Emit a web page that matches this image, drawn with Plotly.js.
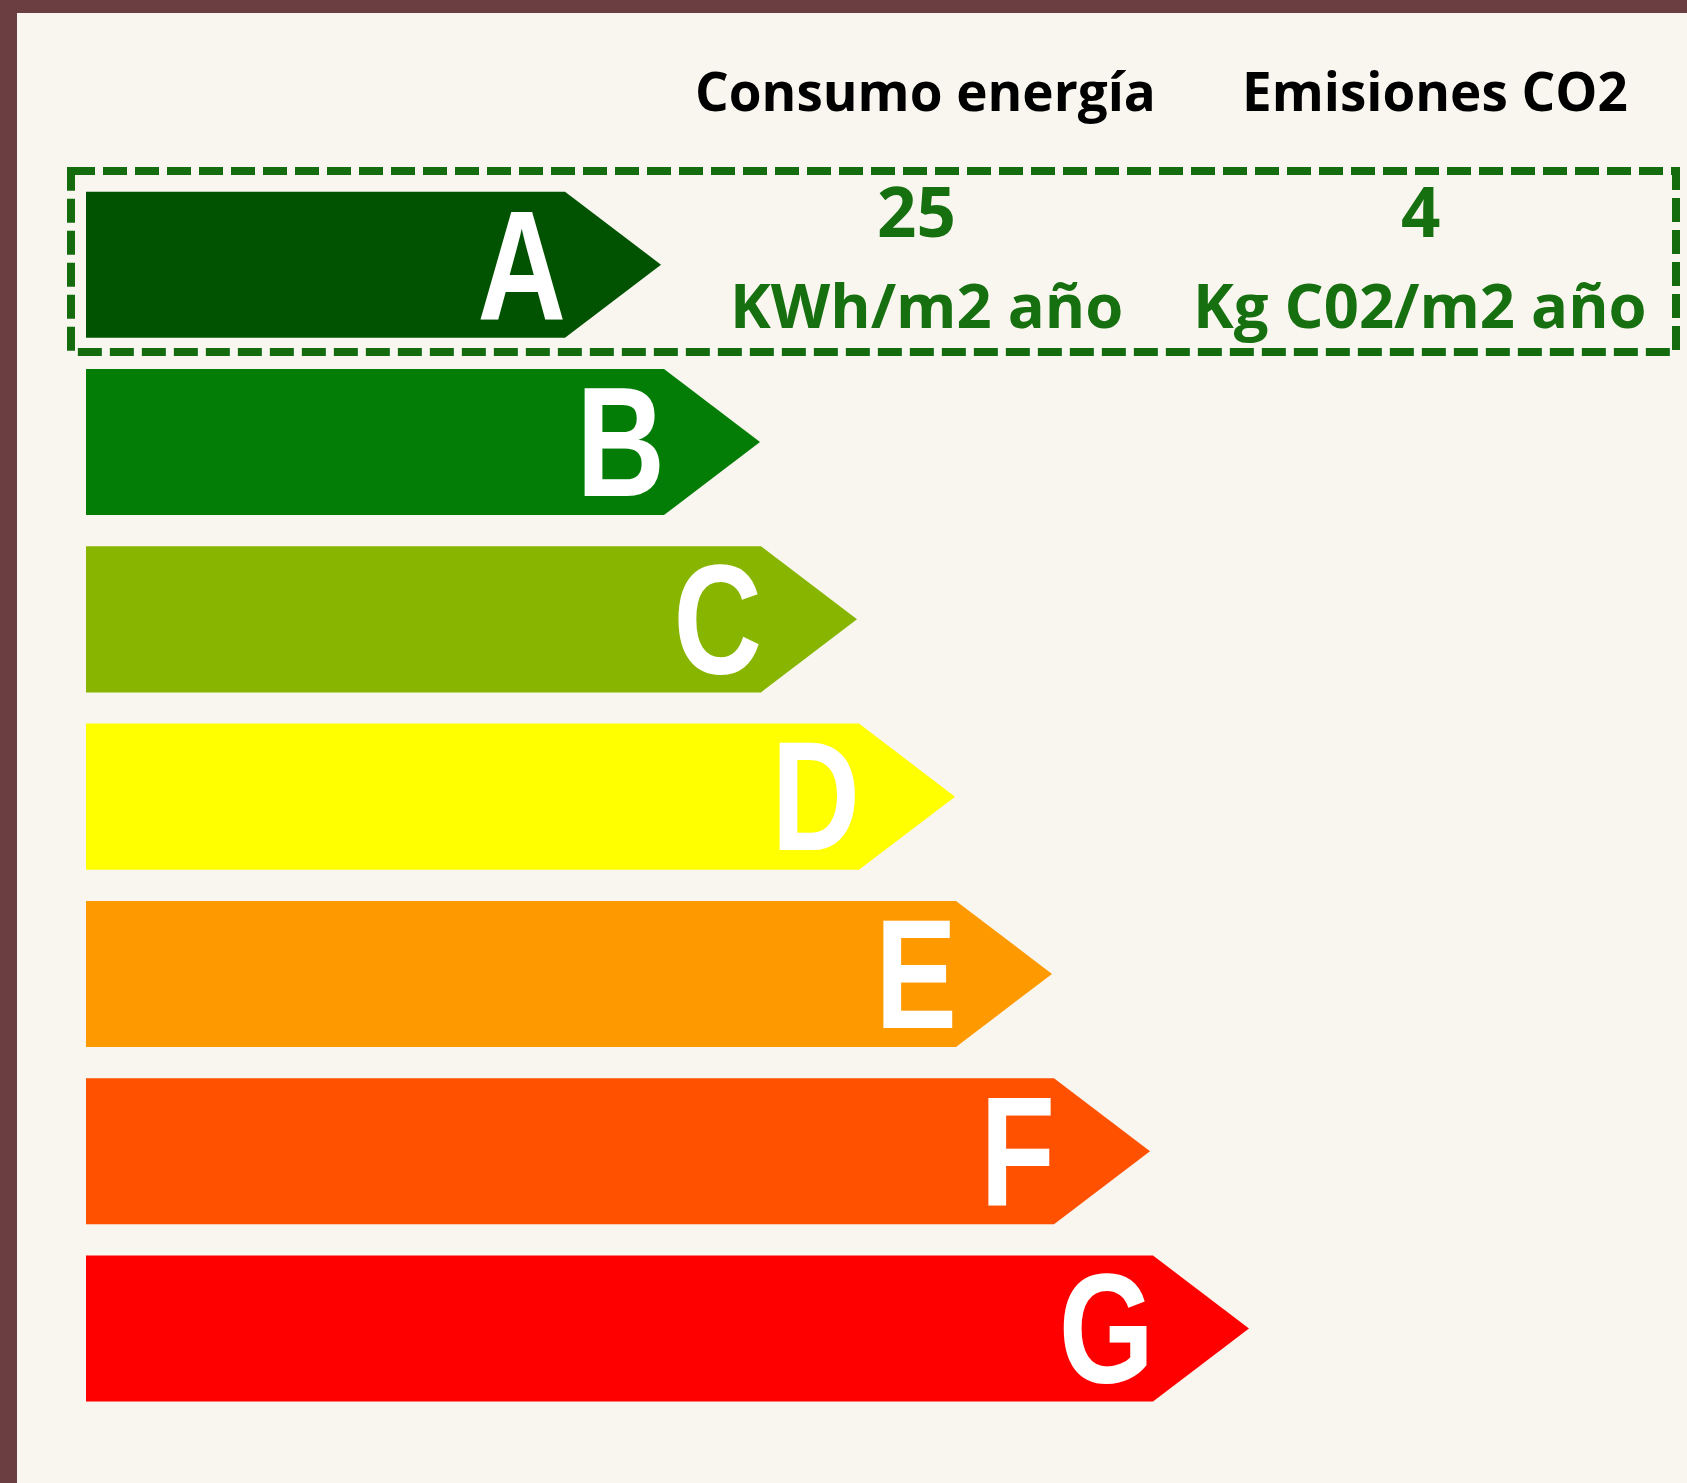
<!DOCTYPE html>
<html><head><meta charset="utf-8">
<script src="https://cdn.plot.ly/plotly-3.0.1.min.js"></script>
<style>html,body{margin:0;padding:0;background:#6B3F41;overflow:hidden;} #chart{width:1687px;height:1483px;}</style>
</head><body><div id="chart"></div>
<script>
// ---- data ----
const classes = ['A', 'B', 'C', 'D', 'E', 'F', 'G'];
const barLength = [479, 578, 675, 773, 870, 968, 1067];
const classColors = ['#015301', '#047D06', '#87B500', '#FFFF00', '#FF9900', '#FF5100', '#FF0000'];
const columnTitles = ['Consumo energía', 'Emisiones CO2'];
const ratingValues = [25, 4];
const ratingUnits = ['KWh/m2 año', 'Kg C02/m2 año'];
const ratedClass = 'A';

// ---- geometry / style ----
const halfH = 0.412;      // half bar height (category units)
const tip = 96;           // arrow tip length (x units)
const labelDrop = 0.085;  // optical vertical correction for letters
const green = '#16700F';
const textFont = 'Open Sans, Noto Sans, sans-serif';
const letterFont = 'Liberation Sans Narrow, Arial Narrow, Liberation Sans, Arial, sans-serif';

const traces = [];
classes.forEach((c, i) => {
  const L = barLength[i];
  traces.push({
    type: 'scatter', mode: 'lines', fill: 'toself',
    x: [0, L, L + tip, L, 0, 0],
    y: [i - halfH, i - halfH, i, i + halfH, i + halfH, i - halfH],
    fillcolor: classColors[i], line: {width: 0, color: classColors[i]},
    hoverinfo: 'skip', showlegend: false
  });
});
traces.push({
  type: 'scatter', mode: 'text',
  x: barLength.map(v => v + 1), y: classes.map((c, i) => i + labelDrop),
  text: classes, textposition: 'middle left',
  textfont: {family: letterFont, size: 155, color: '#FFFFFF', weight: 700},
  hoverinfo: 'skip', showlegend: false
});

const r = classes.indexOf(ratedClass);
const headerX = [839, 1349];
const valueX = [830, 1334];
const unitX = [840, 1334];
const annotations = [];
columnTitles.forEach((t, k) => {
  annotations.push({xref: 'x', yref: 'y', x: headerX[k], y: r - 0.985, text: t, showarrow: false,
    xanchor: 'center', yanchor: 'middle', font: {family: textFont, size: 53, color: '#000000', weight: 700}});
  annotations.push({xref: 'x', yref: 'y', x: valueX[k], y: r - 0.309, text: String(ratingValues[k]), showarrow: false,
    xanchor: 'center', yanchor: 'middle', font: {family: textFont, size: 69, color: green, weight: 700}});
  annotations.push({xref: 'x', yref: 'y', x: unitX[k], y: r + 0.222, text: ratingUnits[k], showarrow: false,
    xanchor: 'center', yanchor: 'middle', font: {family: textFont, size: 61.5, color: green, weight: 700}});
});

const layout = {
  width: 1687, height: 1483,
  margin: {l: 17, r: 0, t: 13, b: 0, pad: 0},
  paper_bgcolor: '#6B3F41', plot_bgcolor: '#F9F6EF',
  xaxis: {range: [-69, 1601], visible: false, fixedrange: true},
  yaxis: {range: [6.871, -1.4196], visible: false, fixedrange: true},
  showlegend: false,
  annotations: annotations,
  shapes: [{type: 'rect', xref: 'x', yref: 'y', x0: -15, x1: 1590, y0: r - 0.528, y1: r + 0.492,
    line: {color: '#146C0F', width: 8, dash: '24px,8px'}, fillcolor: 'rgba(0,0,0,0)'}]
};
Plotly.newPlot('chart', traces, layout, {displayModeBar: false, staticPlot: true}).then(gd => {
  // narrow the class letters (condensed look), keeping their right edge fixed
  gd.querySelectorAll('.textpoint text').forEach(t => {
    const x = parseFloat(t.getAttribute('x'));
    const prev = t.getAttribute('transform') || '';
    t.setAttribute('transform', prev + ` translate(${x},0) scale(0.79,1) translate(${-x},0)`);
  });
});
</script></body></html>
